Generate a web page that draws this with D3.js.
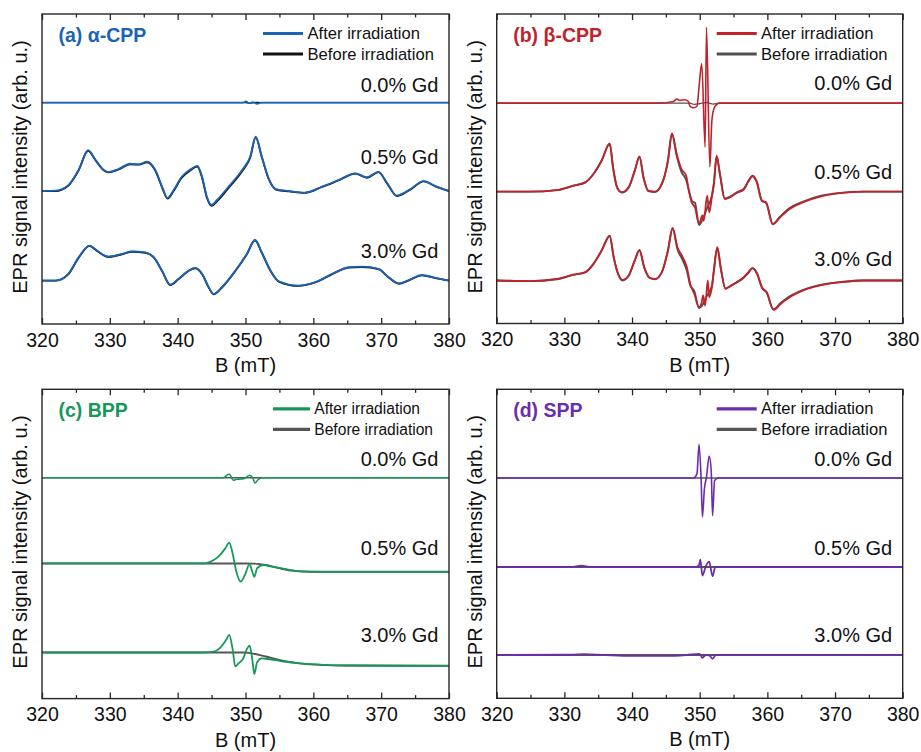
<!DOCTYPE html>
<html>
<head>
<meta charset="utf-8">
<script src="https://cdn.jsdelivr.net/npm/d3@7"></script>
<style>
  html, body { margin: 0; padding: 0; background: #fff; }
  svg { display: block; font-family: "Liberation Sans", Arial, Helvetica, sans-serif; }
</style>
</head>
<body>
<svg id="chart" width="921" height="752"></svg>
<script>
// ---- Data: EPR spectra, B in mT, intensity in arbitrary units (relative to each trace baseline) ----
const fieldDomain = [320, 380];
const majorTicks = [320, 330, 340, 350, 360, 370, 380];
const minorTicks = [325, 335, 345, 355, 365, 375];
const gdLabels = ["0.0% Gd", "0.5% Gd", "3.0% Gd"];
const legendLabels = ["After irradiation", "Before irradiation"];

// vertical stacking offsets of the three Gd traces, per panel (arb. u.)
const offsetsAlpha = [71.4, 42.9, 14.0];
const offsetsBeta = [71.2, 42.6, 13.9];
const offsetsBPP = [71.4, 43.7, 14.9];
const offsetsSPP = [71.3, 42.5, 14.0];
// where each Gd label sits (arb. u.)
const labelYAlpha = [77.1, 54.0, 23.6];
const labelYBeta = [77.8, 49.0, 20.7];
const labelYBPP = [77.4, 48.8, 20.5];
const labelYSPP = [77.4, 48.8, 20.5];

// (a) alpha-CPP
const alphaAfter00 = [[320,0],[349.6,0],[350.1,0.4],[350.5,-0.2],[351.1,0.2],[351.7,-0.4],[352.3,0],[380,0]];
const alphaBefore00 = [[320,0],[350,0],[350.6,-0.2],[351.5,0.1],[352.3,0],[380,0]];
const alphaAfter05 = [[320,0],[322,0.1],[323.9,1.9],[325.4,6.8],[326.8,13.2],[327.9,10.0],[329.1,6.8],[329.8,6.1],
  [331.3,7.1],[333.0,8.8],[334.3,8.6],[335.5,9.5],[336.7,6.8],[337.7,1.4],[338.5,-2.2],[339.4,0.3],[340.6,4.6],
  [341.9,7.0],[342.9,8.1],[343.6,4.6],[344.3,-1.8],[345.0,-4.5],[345.8,-2.9],[347.5,1.4],[349.5,6.8],[350.7,11.1],
  [351.5,17.5],[352.4,11.1],[353.4,4.1],[354.6,0.5],[356.4,0],[358.8,-0.5],[361.3,1.4],[363.7,3.5],[366.2,5.7],
  [367.9,4.4],[369.6,6.2],[370.9,2.5],[372.3,-1.5],[374.1,0.3],[376.3,3.2],[378.0,1.6],[380,0]];
const alphaBefore05 = [[320,0],[322,0.0],[323.9,1.8],[325.4,6.7],[326.8,13.0],[327.9,9.9],[329.1,6.7],[329.8,6.0],
  [331.3,7.0],[333.0,8.6],[334.3,8.5],[335.5,9.3],[336.7,6.6],[337.7,1.2],[338.5,-2.4],[339.4,0.0],[340.6,4.3],
  [341.9,6.7],[342.9,7.9],[343.6,4.3],[344.3,-2.1],[345.0,-4.8],[345.8,-3.3],[347.5,1.0],[349.5,6.4],[350.7,10.8],
  [351.5,17.3],[352.4,11.0],[353.4,4.0],[354.6,0.4],[356.4,-0.1],[358.8,-0.6],[361.3,1.3],[363.7,3.4],[366.2,5.6],
  [367.9,4.3],[369.6,6.1],[370.9,2.4],[372.3,-1.6],[374.1,0.2],[376.3,3.1],[378.0,1.5],[380,0]];
const alphaAfter30 = [[320,0],[322,0],[323.9,2.2],[325.4,7.5],[327.0,11.3],[328.1,9.7],[329.8,7.7],[331.8,8.6],
  [333.3,9.4],[335.2,9.1],[336.5,7.5],[337.7,3.2],[338.9,-1.3],[340.1,0.5],[341.6,3.2],[342.6,4.1],[343.6,2.2],
  [344.6,-2.2],[345.3,-4.3],[346.5,-2.2],[348.5,3.2],[350.2,8.6],[351.4,13.1],[352.4,9.1],[353.7,3.2],[354.9,-0.2],
  [357.8,-1.6],[360.3,-0.5],[362.8,2.2],[365.2,4.3],[367.2,4.5],[369.6,3.8],[371.1,1.1],[372.6,-0.9],[374.1,0.2],
  [376.0,1.8],[378.0,0.9],[380,0]];
const alphaBefore30 = [[320,0],[322,0],[323.9,2.1],[325.4,7.4],[327.0,11.2],[328.1,9.6],[329.8,7.6],[331.8,8.5],
  [333.3,9.3],[335.2,9.0],[336.5,7.4],[337.7,3.1],[338.9,-1.4],[340.1,0.4],[341.6,3.1],[342.6,4.0],[343.6,2.1],
  [344.6,-2.3],[345.3,-4.4],[346.5,-2.3],[348.5,3.1],[350.2,8.5],[351.4,13.0],[352.4,9.0],[353.7,3.1],[354.9,-0.3],
  [357.8,-1.7],[360.3,-0.6],[362.8,2.1],[365.2,4.2],[367.2,4.4],[369.6,3.7],[371.1,1.0],[372.6,-1.0],[374.1,0.1],
  [376.0,1.7],[378.0,0.8],[380,0]];

// (b) beta-CPP
const betaAfter00 = [[320,0],[344.1,0],[346.1,0.5],[346.6,1.3],[347.1,0.9],[347.8,1.1],[348.3,0.6],[348.6,-1.1],
  [349.1,-1.5],[349.6,-1.0],[349.9,5.2],[350.3,12.8],[350.8,-14.2],[351.0,24.5],[351.5,-20.6],[351.8,-5.6],
  [352.2,-1.3],[352.9,0],[380,0]];
const betaBefore00 = [[320,0],[348.5,0],[349.2,-0.4],[350.0,-0.2],[351.0,0.2],[352.0,-0.3],[353.0,0],[380,0]];
const betaAfter05 = [[320,0],[324.9,0],[328.9,0.5],[331.3,1.9],[333.1,3.0],[334.3,5.7],[335.5,10.0],[336.7,15.6],
  [337.2,7.8],[337.8,1.4],[338.5,-0.2],[339.5,1.4],[340.4,6.8],[341.1,11.4],[341.7,4.6],[342.4,0.3],[343.4,0],
  [344.4,2.5],[345.3,10.0],[345.9,18.8],[346.6,12.2],[347.3,7.3],[348.0,5.2],[348.3,1.4],[348.8,-3.4],[349.3,-5.1],
  [349.9,-10.4],[350.4,-7.7],[350.6,-9.4],[351.1,-1.3],[351.4,-6.7],[351.8,-1.8],[352.1,2.5],[352.5,11.6],
  [353.0,5.7],[353.7,-2.4],[354.5,-1.8],[355.5,-0.2],[356.5,0.9],[357.2,3.5],[357.8,5.2],[358.4,3.5],[359.2,-2.9],
  [359.8,-3.4],[360.8,-10.6],[361.9,-8.3],[363.3,-5.6],[365.3,-3.4],[367.8,-1.6],[370.7,-0.5],[374.2,0],[380,0]];
const betaBefore05 = [[320,0],[324.9,0],[328.9,0.5],[331.3,1.9],[333.1,3.0],[334.3,5.7],[335.5,10.0],[336.7,15.4],
  [337.2,7.6],[337.8,1.2],[338.5,-0.3],[339.5,1.3],[340.4,6.7],[341.1,11.2],[341.7,4.5],[342.4,0.2],[343.4,-0.1],
  [344.4,2.4],[345.3,9.8],[345.9,18.6],[346.6,11.6],[347.3,6.4],[348.0,3.8],[348.5,-0.4],[348.9,-3.2],[349.3,-3.6],
  [349.9,-10.8],[350.5,-8.6],[351.1,-5.2],[351.8,-1.2],[352.1,2.8],[352.5,11.3],[353.0,5.4],[353.7,-2.2],
  [354.5,-1.6],[355.5,-0.4],[356.5,0.7],[357.2,3.3],[357.8,5.0],[358.4,3.3],[359.2,-3.0],[359.8,-3.6],
  [360.8,-10.4],[361.9,-8.0],[363.3,-5.3],[365.3,-3.2],[367.8,-1.4],[370.7,-0.4],[374.2,0],[380,0]];
const betaAfter30 = [[320,0],[324.9,-0.2],[328.9,0.5],[331.3,1.9],[333.1,2.7],[334.3,5.4],[335.5,9.7],[336.7,14.5],
  [337.3,7.5],[338.0,1.9],[338.6,0.2],[339.5,1.6],[340.4,6.5],[341.1,9.9],[341.8,4.3],[342.6,0.9],[343.4,0.5],
  [344.4,2.7],[345.3,9.7],[346.0,17.0],[346.7,10.8],[347.5,7.5],[348.1,4.3],[348.6,-1.1],[349.2,-4.3],[349.9,-8.6],
  [350.3,-7.0],[350.5,-4.8],[350.8,-8.1],[351.2,0],[351.4,-5.4],[351.8,-2.2],[352.1,3.2],[352.6,10.8],[353.1,4.3],
  [353.8,-2.7],[354.5,-1.9],[355.5,-0.5],[356.5,1.1],[357.2,2.7],[357.8,4.1],[358.5,2.2],[359.2,-2.2],[359.9,-3.8],
  [360.9,-9.5],[362.0,-7.5],[363.3,-5.4],[365.3,-3.2],[367.8,-1.6],[371.2,-0.5],[374.2,0],[380,0]];
const betaBefore30 = [[320,0],[324.9,-0.2],[328.9,0.4],[331.3,1.8],[333.1,2.6],[334.3,5.3],[335.5,9.6],[336.7,14.3],
  [337.3,7.3],[338.0,1.7],[338.6,0.0],[339.5,1.5],[340.4,6.4],[341.1,9.7],[341.8,4.1],[342.6,0.8],[343.4,0.4],
  [344.4,2.6],[345.3,9.5],[346.0,16.8],[346.7,10.2],[347.5,6.5],[348.1,3.2],[348.6,-1.6],[349.2,-3.4],[349.9,-8.9],
  [350.5,-7.6],[351.1,-4.8],[351.8,-1.8],[352.1,3.4],[352.6,10.6],[353.1,4.1],[353.8,-2.6],[354.5,-1.8],
  [355.5,-0.6],[356.5,0.9],[357.2,2.5],[357.8,3.9],[358.5,2.0],[359.2,-2.3],[359.9,-3.9],[360.9,-9.3],[362.0,-7.2],
  [363.3,-5.1],[365.3,-3.0],[367.8,-1.4],[371.2,-0.4],[374.2,0],[380,0]];

// (c) BPP
const bppAfter00 = [[320,0],[346.7,0],[347.6,1.2],[348.2,-0.8],[348.7,-0.5],[349.4,-0.4],[349.9,-0.2],[350.6,0.8],
  [351.1,-0.2],[351.4,-1.7],[351.9,-0.5],[352.6,0],[380,0]];
const bppBefore00 = [[320,0],[380,0]];
const bppAfter05 = [[320,0],[344,0],[344.8,0.5],[346.0,2.2],[347.0,4.8],[347.6,6.7],[348.1,3.2],[348.6,-2.2],
  [349.3,-5.9],[349.9,-3.8],[350.6,-0.2],[351.0,-2.7],[351.3,-4.3],[351.7,-1.6],[352.6,-0.5],[354.1,-1.1],
  [356.1,-1.9],[358.0,-2.5],[361,-2.7],[380,-2.7]];
const bppBefore05 = [[320,0],[350,0],[351.2,-0.05],[353.0,-0.5],[355.1,-1.6],[357.1,-2.4],[359.5,-2.7],[380,-2.7]];
const bppAfter30 = [[320,0],[343.3,0],[345.3,0.3],[346.3,1.6],[347.2,4.3],[347.6,5.7],[348.1,1.1],[348.5,-4.5],
  [349.0,-3.4],[349.6,-2.2],[350.2,1.1],[350.6,2.2],[351.0,-2.2],[351.3,-7.0],[351.7,-3.2],[352.4,-1.9],
  [353.6,-2.2],[355.6,-2.9],[358.0,-3.5],[361,-3.9],[365,-4.2],[380,-4.3]];
const bppBefore30 = [[320,0],[350,0],[350.7,-0.2],[353.0,-1.3],[355.6,-2.7],[358.0,-3.5],[361,-4.0],[365,-4.2],[380,-4.3]];

// (d) SPP
const sppAfter00 = [[320,0],[349.1,0],[349.6,1.4],[349.9,10.9],[350.2,0.3],[350.4,-12.6],[350.7,-3.4],[351.0,0.3],
  [351.4,7.1],[351.7,2.5],[351.9,-12.2],[352.2,-0.8],[352.8,0],[380,0]];
const sppBefore00 = [[320,0],[380,0]];
const sppAfter05 = [[320,0],[331,0],[332.5,0.4],[334,0],[349.5,0],[349.9,0.6],[350.1,2.4],[350.4,-2.8],[350.9,0.2],
  [351.4,1.7],[351.9,-3.0],[352.3,0],[380,0]];
const sppBefore05 = [[320,0],[380,0]];
const sppAfter30 = [[320,0],[331,0.1],[333,0.3],[336,0],[340,-0.3],[345,-0.3],[348,0],[350.0,0.4],[350.4,-0.9],
  [350.9,0],[351.4,-0.1],[351.9,-1.2],[352.4,0],[380,0]];
const sppBefore30 = [[320,0],[380,0]];

// ---- Panel configuration ----
const panels = [
  { title: "(a) α-CPP", color: "#1c63b4", beforeColor: "#111111",
    after: [alphaAfter00, alphaAfter05, alphaAfter30], before: [alphaBefore00, alphaBefore05, alphaBefore30],
    offsets: offsetsAlpha, labelY: labelYAlpha, legendFont: 16.6, legendLine: [263, 303], legendText: 307.5,
    box: { x0: 42, x1: 449, y0: 14, y1: 324 } },
  { title: "(b) β-CPP", color: "#c0232b", beforeColor: "#505050",
    after: [betaAfter00, betaAfter05, betaAfter30], before: [betaBefore00, betaBefore05, betaBefore30],
    offsets: offsetsBeta, labelY: labelYBeta, legendFont: 16.6, legendLine: [716.7, 756.7], legendText: 761,
    box: { x0: 496.7, x1: 902.7, y0: 14, y1: 323.5 } },
  { title: "(c) BPP", color: "#17985a", beforeColor: "#555555",
    after: [bppAfter00, bppAfter05, bppAfter30], before: [bppBefore00, bppBefore05, bppBefore30],
    offsets: offsetsBPP, labelY: labelYBPP, legendFont: 15.6, legendLine: [273, 310], legendText: 314.3,
    box: { x0: 42, x1: 449, y0: 389.3, y1: 698.6 } },
  { title: "(d) SPP", color: "#6a2dab", beforeColor: "#555555",
    after: [sppAfter00, sppAfter05, sppAfter30], before: [sppBefore00, sppBefore05, sppBefore30],
    offsets: offsetsSPP, labelY: labelYSPP, legendFont: 16.6, legendLine: [716.7, 756.7], legendText: 761,
    box: { x0: 496.7, x1: 902.7, y0: 389.3, y1: 698.3 } }
];

const svg = d3.select("#chart");
const frameColor = "#262626";

panels.forEach((p, pi) => {
  const b = p.box;
  const x = d3.scaleLinear().domain(fieldDomain).range([b.x0, b.x1]);
  const y = d3.scaleLinear().domain([0, 100]).range([b.y1, b.y0]);
  const g = svg.append("g");

  const clipId = "clip-" + pi;
  g.append("clipPath").attr("id", clipId)
    .append("rect").attr("x", b.x0).attr("y", b.y0).attr("width", b.x1 - b.x0).attr("height", b.y1 - b.y0);

  const line = d3.line().curve(d3.curveMonotoneX);

  const traces = g.append("g").attr("clip-path", `url(#${clipId})`);
  p.before.forEach((series, i) => {
    traces.append("path")
      .attr("d", line(series.map(d => [x(d[0]), y(d[1] + p.offsets[i])])))
      .attr("fill", "none").attr("stroke", p.beforeColor)
      .attr("stroke-width", i === 0 ? 1.3 : 1.9).attr("stroke-linejoin", "round");
  });
  p.after.forEach((series, i) => {
    traces.append("path")
      .attr("d", line(series.map(d => [x(d[0]), y(d[1] + p.offsets[i])])))
      .attr("fill", "none").attr("stroke", p.color)
      .attr("stroke-width", i === 0 ? 1.6 : 1.8).attr("stroke-linejoin", "round");
  });

  // frame
  g.append("rect").attr("x", b.x0).attr("y", b.y0)
    .attr("width", b.x1 - b.x0).attr("height", b.y1 - b.y0)
    .attr("fill", "none").attr("stroke", frameColor).attr("stroke-width", 1.4);

  // bottom and top axes with inward ticks
  const bottom = g.append("g").attr("transform", `translate(0,${b.y1})`)
    .call(d3.axisBottom(x).tickValues(majorTicks).tickSize(-6).tickPadding(9).tickFormat(d3.format("d")));
  const bottomMinor = g.append("g").attr("transform", `translate(0,${b.y1})`)
    .call(d3.axisBottom(x).tickValues(minorTicks).tickSize(-3.5).tickFormat(""));
  const top = g.append("g").attr("transform", `translate(0,${b.y0})`)
    .call(d3.axisTop(x).tickValues(majorTicks).tickSize(-6).tickFormat(""));
  const topMinor = g.append("g").attr("transform", `translate(0,${b.y0})`)
    .call(d3.axisTop(x).tickValues(minorTicks).tickSize(-3.5).tickFormat(""));
  [bottom, bottomMinor, top, topMinor].forEach(a => {
    a.select(".domain").remove();
    a.selectAll("line").attr("stroke", frameColor).attr("stroke-width", 1.3);
  });
  bottom.selectAll("text").attr("font-size", 19.5).attr("fill", "#111")
    .attr("font-family", "'Liberation Sans', Arial, sans-serif");

  // axis titles
  g.append("text").attr("x", (b.x0 + b.x1) / 2).attr("y", b.y1 + 48)
    .attr("text-anchor", "middle").attr("font-size", 20).attr("fill", "#111").text("B (mT)");
  g.append("text")
    .attr("transform", `translate(${b.x0 - 22},${(b.y0 + b.y1) / 2 - 2}) rotate(-90)`)
    .attr("text-anchor", "middle").attr("dominant-baseline", "central")
    .attr("font-size", 20).attr("fill", "#111").text("EPR signal intensity (arb. u.)");

  // panel title
  g.append("text").attr("x", b.x0 + 16.5).attr("y", b.y0 + 28)
    .attr("font-size", 19.5).attr("font-weight", "bold").attr("fill", p.color).text(p.title);

  // legend
  const legRows = [b.y0 + 19.5, b.y0 + 40];
  legendLabels.forEach((lab, i) => {
    g.append("line")
      .attr("x1", p.legendLine[0]).attr("x2", p.legendLine[1])
      .attr("y1", legRows[i]).attr("y2", legRows[i])
      .attr("stroke", i === 0 ? p.color : p.beforeColor).attr("stroke-width", 3.2);
    g.append("text").attr("x", p.legendText).attr("y", legRows[i])
      .attr("dominant-baseline", "central").attr("font-size", p.legendFont).attr("fill", "#111").text(lab);
  });

  // Gd concentration labels
  gdLabels.forEach((lab, i) => {
    g.append("text").attr("x", b.x1 - 10.5).attr("y", y(p.labelY[i]))
      .attr("text-anchor", "end").attr("dominant-baseline", "central")
      .attr("font-size", 20).attr("fill", "#111").text(lab);
  });
});
</script>
</body>
</html>
